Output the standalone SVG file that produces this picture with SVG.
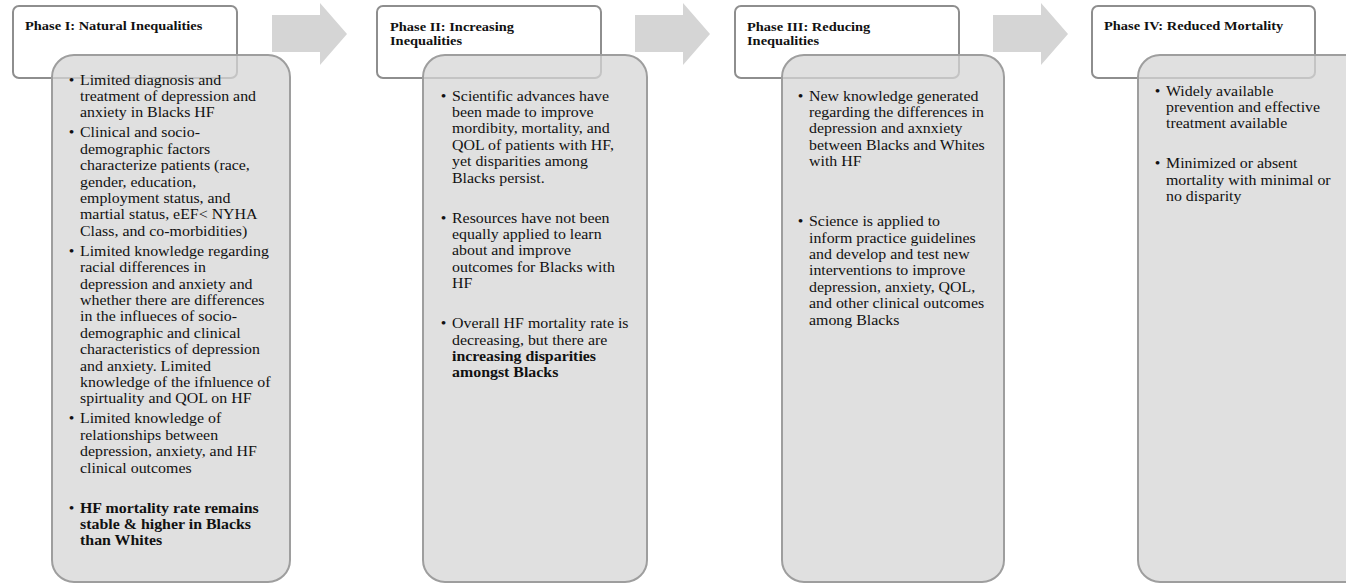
<svg xmlns="http://www.w3.org/2000/svg" width="1346" height="583" viewBox="0 0 1346 583">
<style>
.hdr{fill:#ffffff;stroke:#8e8e8e;stroke-width:2}
.body{fill:rgb(214,214,214);fill-opacity:0.75;stroke:#9e9e9e;stroke-width:2}
.arrow{fill:#d5d5d5}
text{font-family:"Liberation Serif","Times New Roman",serif;fill:#111}
.t{font-size:14px}
.b{font-weight:bold}
.h{font-size:12.7px;font-weight:bold}
</style>
<rect width="1346" height="583" fill="#ffffff"/>
<g id="connectors">
<polygon class="arrow" points="272,15 320,15 320,3 347,34 320,65 320,52 272,52"/>
<polygon class="arrow" points="635,15 683,15 683,3 710,34 683,65 683,52 635,52"/>
<polygon class="arrow" points="993,15 1041,15 1041,3 1068,34 1041,65 1041,52 993,52"/>
</g>
<g id="phase1">
<rect class="hdr" x="13" y="6" width="224" height="72" rx="6"/>
<rect class="body" x="52" y="55" width="238" height="527" rx="22"/>
<g transform="translate(25 0) scale(1.136 1)"><text class="h" x="0" y="30">Phase I: Natural Inequalities</text></g>
<g transform="translate(80 0) scale(1.136 1)">
<text class="t"><tspan x="-10" y="84.7">•</tspan><tspan x="-10" y="137.5">•</tspan><tspan x="-10" y="255.9">•</tspan><tspan x="-10" y="423.5">•</tspan><tspan x="-10" y="512.7">•</tspan></text>
<text class="t"><tspan x="0" y="84.7">Limited diagnosis and</tspan><tspan x="0" y="101.1">treatment of depression and</tspan><tspan x="0" y="117.5">anxiety in Blacks HF</tspan><tspan x="0" y="137.5">Clinical and socio-</tspan><tspan x="0" y="153.9">demographic factors</tspan><tspan x="0" y="170.3">characterize patients (race,</tspan><tspan x="0" y="186.7">gender, education,</tspan><tspan x="0" y="203.1">employment status, and</tspan><tspan x="0" y="219.5">martial status, eEF&lt; NYHA</tspan><tspan x="0" y="235.9">Class, and co-morbidities)</tspan><tspan x="0" y="255.9">Limited knowledge regarding</tspan><tspan x="0" y="272.3">racial differences in</tspan><tspan x="0" y="288.7">depression and anxiety and</tspan><tspan x="0" y="305.1">whether there are differences</tspan><tspan x="0" y="321.5">in the influeces of socio-</tspan><tspan x="0" y="337.9">demographic and clinical</tspan><tspan x="0" y="354.3">characteristics of depression</tspan><tspan x="0" y="370.7">and anxiety. Limited</tspan><tspan x="0" y="387.1">knowledge of the ifnluence of</tspan><tspan x="0" y="403.5">spirtuality and QOL on HF</tspan><tspan x="0" y="423.5">Limited knowledge of</tspan><tspan x="0" y="439.9">relationships between</tspan><tspan x="0" y="456.3">depression, anxiety, and HF</tspan><tspan x="0" y="472.7">clinical outcomes</tspan></text>
<text class="t b"><tspan x="0" y="512.7">HF mortality rate remains</tspan><tspan x="0" y="529.1">stable &amp; higher in Blacks</tspan><tspan x="0" y="545.5">than Whites</tspan></text>
</g>
</g>
<g id="phase2">
<rect class="hdr" x="377" y="6" width="224" height="72" rx="6"/>
<rect class="body" x="423" y="55" width="224" height="527" rx="22"/>
<g transform="translate(390 0) scale(1.136 1)"><text class="h"><tspan x="0" y="30.7">Phase II: Increasing</tspan><tspan x="0" y="45">Inequalities</tspan></text></g>
<g transform="translate(452 0) scale(1.136 1)">
<text class="t"><tspan x="-10" y="100.7">•</tspan><tspan x="-10" y="222.7">•</tspan><tspan x="-10" y="328.3">•</tspan></text>
<text class="t"><tspan x="0" y="100.7">Scientific advances have</tspan><tspan x="0" y="117.1">been made to improve</tspan><tspan x="0" y="133.5">mordibity, mortality, and</tspan><tspan x="0" y="149.9">QOL of patients with HF,</tspan><tspan x="0" y="166.3">yet disparities among</tspan><tspan x="0" y="182.7">Blacks persist.</tspan><tspan x="0" y="222.7">Resources have not been</tspan><tspan x="0" y="239.1">equally applied to learn</tspan><tspan x="0" y="255.5">about and improve</tspan><tspan x="0" y="271.9">outcomes for Blacks with</tspan><tspan x="0" y="288.3">HF</tspan><tspan x="0" y="328.3">Overall HF mortality rate is</tspan><tspan x="0" y="344.7">decreasing, but there are</tspan></text>
<text class="t b"><tspan x="0" y="361.1">increasing disparities</tspan><tspan x="0" y="377.5">amongst Blacks</tspan></text>
</g>
</g>
<g id="phase3">
<rect class="hdr" x="735" y="6" width="224" height="72" rx="6"/>
<rect class="body" x="782" y="55" width="222" height="527" rx="22"/>
<g transform="translate(747 0) scale(1.136 1)"><text class="h"><tspan x="0" y="30.7">Phase III: Reducing</tspan><tspan x="0" y="45">Inequalities</tspan></text></g>
<g transform="translate(809 0) scale(1.136 1)">
<text class="t"><tspan x="-10" y="100.7">•</tspan><tspan x="-10" y="226.3">•</tspan></text>
<text class="t"><tspan x="0" y="100.7">New knowledge generated</tspan><tspan x="0" y="117.1">regarding the differences in</tspan><tspan x="0" y="133.5">depression and axnxiety</tspan><tspan x="0" y="149.9">between Blacks and Whites</tspan><tspan x="0" y="166.3">with HF</tspan><tspan x="0" y="226.3">Science is applied to</tspan><tspan x="0" y="242.7">inform practice guidelines</tspan><tspan x="0" y="259.1">and develop and test new</tspan><tspan x="0" y="275.5">interventions to improve</tspan><tspan x="0" y="291.9">depression, anxiety, QOL,</tspan><tspan x="0" y="308.3">and other clinical outcomes</tspan><tspan x="0" y="324.7">among Blacks</tspan></text>
</g>
</g>
<g id="phase4">
<rect class="hdr" x="1092" y="6" width="223" height="72" rx="6"/>
<rect class="body" x="1138" y="55" width="238" height="527" rx="22"/>
<g transform="translate(1104 0) scale(1.136 1)"><text class="h" x="0" y="30">Phase IV: Reduced Mortality</text></g>
<g transform="translate(1166 0) scale(1.136 1)">
<text class="t"><tspan x="-10" y="95.7">•</tspan><tspan x="-10" y="168.5">•</tspan></text>
<text class="t"><tspan x="0" y="95.7">Widely available</tspan><tspan x="0" y="112.1">prevention and effective</tspan><tspan x="0" y="128.5">treatment available</tspan><tspan x="0" y="168.5">Minimized or absent</tspan><tspan x="0" y="184.9">mortality with minimal or</tspan><tspan x="0" y="201.3">no disparity</tspan></text>
</g>
</g>
</svg>
